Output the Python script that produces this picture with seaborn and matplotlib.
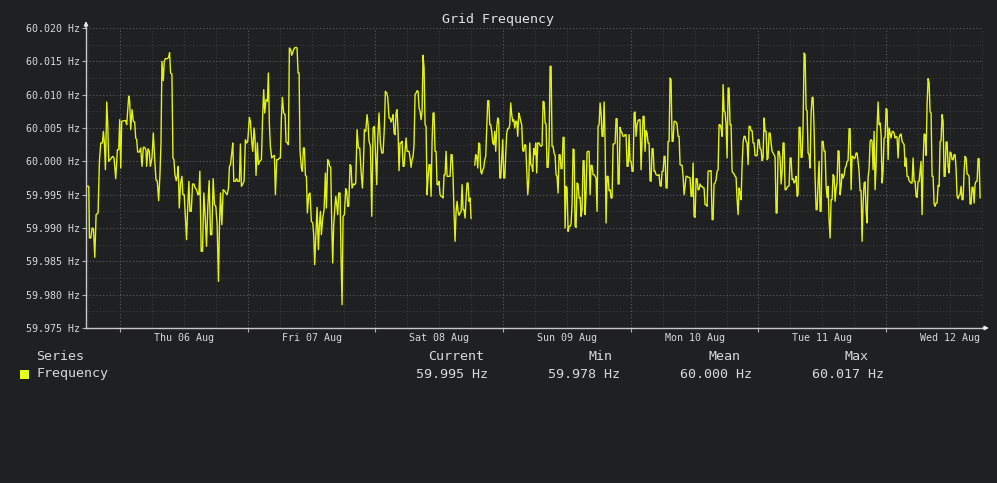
import pandas as pd
import matplotlib
matplotlib.use("Agg")
import matplotlib.pyplot as plt
import matplotlib.dates as mdates
import matplotlib.transforms as mtransforms
from matplotlib.patches import Rectangle
from matplotlib.ticker import MultipleLocator, FuncFormatter, NullFormatter
import seaborn as sns

# Данні: (години від Thu 06 Aug 00:00, відхилення від 60 Гц у мГц)
NOMINAL_HZ = 60.0
DAY0 = pd.Timestamp("2020-08-06 00:00")

wed_thu = [(-6.25,-3.75),(-5.88,-3.75),(-5.75,-11.5),(-5.5,-11.5),(-5.25,-10),(-5.0,-10.1),(-4.75,-14.4),(-4.5,-8),(-4.13,-7.75),(-3.88,0),(-3.63,2.75),(-3.31,2.75),(-3.13,4.5),(-2.94,2.75),(-2.75,-1.25),(-2.5,8.9),(-2.31,5.5),(-2.13,0),(-1.88,0.25),(-1.63,0.5),(-1.38,0.75),(-1.13,0.5),(-0.81,-2.6),(-0.5,1.75),(-0.25,1.75),(-0.06,6.25),(0.13,-1),(0.31,6),(0.75,6.1),(1.06,6.1),(1.25,5.5),(1.63,9.8),(1.81,9),(2.0,4.75),(2.25,7.75),(2.5,6),(2.75,5.9),(2.94,3.5),(3.13,3.25),(3.31,1.4),(3.63,1.4),(3.88,2),(4.13,-0.75),(4.38,2.1),(4.63,2.1),(4.88,1.6),(5.0,-0.75),(5.25,1.9),(5.5,1.5),(5.69,-0.75),(6.0,0.5),(6.25,4.25),(6.5,0.5),(6.75,-2.75),(7.0,-3),(7.25,-5.9),(7.5,-2),(7.69,2.6),(7.88,15),(8.13,12.1),(8.31,15),(8.5,15.4),(8.88,15.4),(9.13,15.6),(9.31,16.3),(9.5,13.25),(9.75,13.1),(9.94,0.5),(10.13,0.25),(10.31,-2),(10.56,-2.9),(10.75,-2.25),(10.94,-0.75),(11.13,-7),(11.38,-3.25),(11.63,-2.25),(11.81,-5),(12.06,-5),(12.31,-9),(12.5,-11.75),(12.69,-7.5),(12.94,-3),(13.13,-7.5),(13.38,-7.5),(13.63,-3.4),(13.88,-3.4),(14.13,-4),(14.38,-4.25),(14.63,-5),(14.81,-5),(15.0,-1.5),(15.25,-13.5),(15.5,-13.5),(15.75,-4.75),(16.0,-8.25),(16.25,-12.75),(16.5,-6.75),(16.75,-2.9),(17.0,-11),(17.25,-11),(17.5,-2.6),(17.75,-6.5),(18.0,-6.75),(18.25,-9.5),(18.5,-18),(18.69,-9.5),(18.88,-4.75),(19.13,-9.5),(19.38,-4.25),(19.63,-4.4),(19.88,-4.75),(20.13,-5),(20.38,-4),(20.56,-0.75),(20.75,-0.5),(21.0,1.25),(21.19,2.75),(21.38,-3),(21.69,-3),(21.88,-2.6),(22.13,-3)]

thu_fri = [(22.43,-3),(22.62,2.6),(22.81,-3.75),(23.06,-3.4),(23.31,-3),(23.56,3.25),(23.81,2.75),(24.0,3),(24.31,6.6),(24.5,6),(24.75,3),(24.94,1.5),(25.19,5),(25.38,3.25),(25.56,-2.1),(25.81,2.75),(26.0,-0.5),(26.25,0),(26.57,0.25),(26.82,7.25),(27.0,10.75),(27.19,7.25),(27.44,9.25),(27.69,9),(27.88,13.25),(28.07,5.5),(28.26,2.25),(28.51,0.5),(28.76,0.75),(29.01,0.9),(29.2,-5),(29.45,0.25),(29.7,0.25),(29.95,0.5),(30.14,0.5),(30.33,6.5),(30.51,9.6),(30.76,7.25),(31.02,7),(31.2,2.9),(31.45,2.75),(31.64,2.5),(31.83,17),(32.08,16.75),(32.27,15.9),(32.52,16.5),(32.77,17),(33.08,17.1),(33.27,17),(33.46,13.25),(33.65,13.25),(33.83,1.5),(34.09,-1),(34.27,-1.5),(34.46,2),(34.65,2),(34.84,-2.1),(35.03,-2.25),(35.21,-7.75),(35.46,-5),(35.71,-4.75),(35.96,-9),(36.22,-9.25),(36.4,-11),(36.59,-15.5),(36.78,-11.5),(37.03,-6.9),(37.28,-13.25),(37.47,-9.5),(37.66,-7.5),(37.84,-11),(38.1,-8.5),(38.35,-7.25),(38.6,-1.75),(38.78,-7),(39.04,0.25),(39.22,0),(39.41,-0.75),(39.6,-0.9),(39.79,-9.5),(39.97,-15.25),(40.16,-9.5),(40.35,-7.25),(40.54,-5.25),(40.73,-6.5),(40.91,-8),(41.1,-4.75),(41.35,-4.75),(41.54,-14.5),(41.73,-21.5),(41.92,-8.25),(42.17,-8),(42.42,-4.1),(42.61,-4.5),(42.79,-6.75),(42.98,-6.75),(43.23,-0.5),(43.42,-0.75),(43.61,-4),(43.86,-3.4),(44.11,-3.5),(44.3,-3.25),(44.55,4.75),(44.8,2),(45.05,2),(45.3,-1.5),(45.55,-4),(45.74,-0.5),(45.93,4.75),(46.18,4.5),(46.43,7),(46.62,5.5),(46.8,3),(47.06,2.25),(47.31,-8.25),(47.56,5),(47.81,5.25),(47.99,1.75),(48.25,-3.5),(48.43,3.25),(48.68,7.25),(48.93,2.75),(49.19,1.25),(49.44,1.25),(49.69,5.25),(49.87,10.5),(50.13,10.25),(50.31,9.6),(50.56,6.5)]

sat_a = [(50.75,6.5),(50.94,5.9),(51.13,6.35),(51.32,7),(51.5,4.25),(51.69,4),(51.88,7.25),(52.07,7.75),(52.26,4.25),(52.44,-1.4),(52.63,2.75),(52.82,2.75),(53.01,3),(53.2,-0.75),(53.38,-0.75),(53.57,1.5),(53.76,3.5),(53.95,1.5),(54.14,1.5),(54.32,1.5),(54.51,0.5),(54.7,-0.9),(54.89,0.25),(55.08,0.75),(55.26,2.5),(55.45,10),(55.64,10.25),(55.83,10.6),(56.02,10.5),(56.2,8),(56.39,7.5),(56.58,6.25),(56.77,7.5),(56.95,15.9),(57.14,14),(57.33,5.5),(57.52,5.25),(57.71,-5),(57.89,-2.5),(58.08,-0.5),(58.27,-0.5),(58.46,-5.25),(58.65,3),(58.83,7.25),(59.02,7.25),(59.21,1.5),(59.4,1.5),(59.59,-3.5),(59.77,-3.5),(59.96,-3),(60.15,-5),(60.34,-5.25),(60.53,-5.25),(60.71,-5.5),(60.9,-2),(61.09,-2),(61.28,1.5),(61.47,-2.25),(61.65,-2.25),(61.84,-2.25),(62.03,-2.25),(62.22,1),(62.41,1),(62.59,-2.25),(62.78,-7.75),(62.97,-12),(63.16,-7.5),(63.35,-6),(63.53,-7.5),(63.72,-8.1),(63.91,-7.75),(64.1,-7.5),(64.29,-3.5),(64.47,-7.25),(64.66,-7.25),(64.85,-8.5),(65.04,-5.5),(65.23,-3.25),(65.41,-3.25),(65.6,-6),(65.79,-5.5),(65.98,-8.6)]

sat_b = [(66.67,-0.6),(66.85,1),(67.04,0.75),(67.23,-1),(67.42,2.75),(67.61,2.6),(67.79,-1.5),(67.98,-1.9),(68.17,-1.25),(68.36,-1),(68.55,0.25),(68.73,0.75),(68.92,5),(69.11,9.1),(69.3,9.1),(69.49,5.5),(69.67,5.5),(69.86,4.5),(70.05,2.75),(70.24,2.5),(70.43,4.5),(70.61,1.5),(70.8,5),(70.99,6.5),(71.18,6),(71.37,-2.5),(71.55,-2.5),(71.74,0.5),(71.93,3.25),(72.12,-2.5),(72.31,-2.5),(72.49,1),(72.68,4.25),(72.87,4.9),(73.06,4.9),(73.25,5.5),(73.43,8.75),(73.62,7),(73.81,6),(74.0,6.25),(74.19,5),(74.37,6),(74.56,6),(74.75,3.75),(74.94,7.25),(75.13,6.75),(75.31,6),(75.5,5.5),(75.69,1.6),(75.88,1.5),(76.07,2.5),(76.25,2.4),(76.44,-1.5),(76.63,-5),(76.82,-3),(77.01,2.75),(77.19,-0.5),(77.38,-0.6),(77.57,-1.5),(77.76,1.9),(77.95,1),(78.13,2.75),(78.32,-1.75),(78.51,2.75)]

sun_mon = [(78.76,2.75),(78.95,2.4),(79.14,2.25),(79.32,2.4),(79.51,9),(79.7,8.9),(79.89,5.75),(80.08,5.6),(80.26,-0.9),(80.45,-0.9),(80.64,2.5),(80.83,14.25),(81.02,14.25),(81.2,2.25),(81.39,2.25),(81.58,1.25),(81.77,0.9),(81.95,-2),(82.14,-2.25),(82.33,-4.75),(82.52,1),(82.71,1),(82.89,-1.1),(83.08,-1.1),(83.27,3.6),(83.46,3.6),(83.65,-10),(83.83,-3.75),(84.02,-4),(84.21,-10.5),(84.4,-9.75),(84.59,-9.75),(84.77,-9.4),(84.96,-6.5),(85.15,1.85),(85.34,1.75),(85.53,-9.75),(85.71,-9.9),(85.9,-3.25),(86.09,-3.4),(86.28,-5.5),(86.47,-5.4),(86.65,-8.25),(86.84,-7.25),(87.03,0.1),(87.22,0.1),(87.41,-8),(87.59,-4.75),(87.78,1.4),(87.97,1.5),(88.16,1.5),(88.35,-5),(88.53,-0.6),(88.72,-0.6),(88.91,-2),(89.1,-2),(89.29,-2.25),(89.47,-2.5),(89.66,-7.5),(89.85,5.25),(90.04,5.5),(90.23,8.75),(90.41,7.25),(90.6,3.75),(90.79,3.75),(90.98,8.9),(91.17,3.1),(91.35,-9.25),(91.54,-2.25),(91.73,-2.25),(91.92,-4.4),(92.11,-4.25),(92.29,-5.5),(92.48,-5.5),(92.67,2.6),(92.86,2.6),(93.05,2.75),(93.23,6.4),(93.42,6.4),(93.61,-3.4),(93.8,-3.4),(93.98,5.1),(94.17,4.5),(94.36,4.25),(94.55,3.75),(94.74,3.75),(94.92,4),(95.11,4),(95.3,-0.75),(95.49,-0.75),(95.68,4),(95.86,0),(96.05,0),(96.24,-1.5),(96.43,-1.5),(96.62,7.25),(96.8,7.4),(96.99,3.75),(97.18,5.5),(97.37,6.1),(97.56,6.25),(97.74,6.25),(97.93,-1.25),(98.12,3.25),(98.31,6.75),(98.5,6.75),(98.68,1.5),(98.87,4.6),(99.06,4.25),(99.25,2.75),(99.44,2.75),(99.62,-2.9),(99.81,-3),(100.0,1.9),(100.19,1.9),(100.38,-1.5),(100.56,-1.5),(100.75,-2),(100.94,-2.1),(101.13,-2.1),(101.32,-2),(101.5,-3.6),(101.69,-3.75),(101.88,-1.5),(102.07,-1.5),(102.26,0.75),(102.44,0.75),(102.63,-4),(102.82,-4),(103.01,3),(103.2,3),(103.38,12.5),(103.57,12.25),(103.76,3),(103.95,3),(104.14,6),(104.32,6),(104.51,5.9),(104.7,5.5),(104.89,3.75),(105.08,3.75),(105.26,-0.5),(105.45,-0.6),(105.64,-0.6),(105.83,-2.25),(106.02,-5),(106.2,-3.75),(106.39,-2.25),(106.58,-2.25)]

mon_tue = [(106.77,-2.4),(106.95,-2.4),(107.14,-2.5),(107.33,-5.25),(107.52,-5.25),(107.71,-0.25),(107.89,-8.25),(108.08,-8.4),(108.27,-2.6),(108.46,-2.6),(108.65,-4.25),(108.83,-4.25),(109.02,-3.4),(109.21,-3.75),(109.4,-3.75),(109.59,-4),(109.77,-4),(109.96,-6.5),(110.15,-6.5),(110.34,-6.75),(110.53,-1.5),(110.71,-1.4),(110.9,-1.5),(111.09,-1.4),(111.28,-8.75),(111.47,-8.75),(111.65,-3.4),(111.84,-3.25),(112.03,-2.75),(112.22,-1.5),(112.41,-1.25),(112.59,5.5),(112.78,5.5),(112.97,5),(113.16,3.75),(113.35,11.5),(113.53,7.5),(113.72,7.4),(113.91,5.5),(114.1,0.5),(114.29,11),(114.47,11),(114.66,5.5),(114.85,5.5),(115.04,-1.5),(115.23,-1.75),(115.41,-1.9),(115.6,-2.25),(115.79,-2.4),(115.98,-5.75),(116.17,-8),(116.35,-4),(116.54,-4.75),(116.73,-5.75),(116.92,-0.5),(117.11,2.9),(117.29,3.75),(117.48,3.75),(117.67,3),(117.86,2.75),(118.05,-0.5),(118.23,5.25),(118.42,5.25),(118.61,4.6),(118.8,4.6),(118.98,2.75),(119.17,2.75),(119.36,0.85),(119.55,0.85),(119.74,0.85),(119.92,3.25),(120.11,3.25),(120.3,1.9),(120.49,1.75),(120.68,0.1),(120.86,0.5),(121.05,6.5),(121.24,4.5),(121.43,4.5),(121.62,0.25),(121.8,0.5),(121.99,4.25),(122.18,4.25),(122.37,2.75),(122.56,1.5),(122.74,1.25),(122.93,1),(123.12,0.6),(123.31,-7.75),(123.5,-7.75),(123.68,1.5),(123.87,1.5),(124.06,0.5),(124.25,-3.4),(124.44,-1.5),(124.62,2.75),(124.81,2.75),(125.0,-4.25),(125.19,-4.25),(125.38,-3.9),(125.56,-3.75),(125.75,-3.65),(125.94,0.5),(126.13,0.5),(126.32,-2.75),(126.5,-2.6),(126.69,-3.25),(126.88,-3),(127.07,-2.25),(127.26,-5.25),(127.44,-5),(127.63,5.1),(127.82,5.1),(128.01,0.6),(128.2,0.6),(128.38,5.1),(128.57,16.25),(128.76,16),(128.95,7.75),(129.14,7.6),(129.32,1.25),(129.51,1),(129.7,-1),(129.89,7.25),(130.08,9.6),(130.26,9.6),(130.45,5),(130.64,-2.5),(130.83,-7.25),(131.02,-7.25),(131.2,-3.25),(131.39,0),(131.58,-7.5),(131.77,-7.5),(131.95,3),(132.14,3),(132.33,1.5),(132.52,1.5),(132.71,-3.75),(132.89,-5.4),(133.08,-3.75),(133.27,-8.75),(133.46,-11.5),(133.65,-5.75),(133.83,-5.75),(134.02,-2),(134.21,-2.25),(134.4,-6),(134.59,-4),(134.77,-3.25)]

tue_wed = [(134.96,1.6),(135.15,1.5),(135.34,-5),(135.53,-3.75),(135.71,-1.9),(135.9,-2.5),(136.09,-2.1),(136.28,-1),(136.47,-0.75),(136.65,0),(136.84,0.1),(137.03,4.9),(137.22,4.9),(137.41,-4.25),(137.59,0.75),(137.78,0.75),(137.97,0.4),(138.16,0.5),(138.35,1.25),(138.53,1.25),(138.72,0),(138.91,-1.5),(139.1,-4.4),(139.29,-4.4),(139.47,-12),(139.66,-6.5),(139.85,-3.25),(140.04,-3.1),(140.23,-7.5),(140.41,-9.25),(140.6,-2.5),(140.79,-1.1),(140.98,3),(141.17,3.25),(141.35,3),(141.54,-1.25),(141.73,4.5),(141.92,-4.25),(142.11,-0.5),(142.29,5),(142.48,8.9),(142.67,5.5),(142.86,5.75),(143.05,4),(143.23,-3.25),(143.42,-1.5),(143.61,3.5),(143.8,3.6),(143.98,7.9),(144.17,7.75),(144.36,0.25),(144.55,5),(144.74,4.25),(144.92,3.5),(145.11,4.4),(145.3,4.5),(145.49,4.25),(145.68,3.5),(145.86,3.75),(146.05,3.6),(146.24,0.5),(146.43,3.5),(146.62,4),(146.8,4.1),(146.99,3),(147.18,2.75),(147.37,2.5),(147.56,-0.75),(147.74,0.5),(147.93,-2.25),(148.12,-2.25),(148.31,-2.9),(148.5,-3.1),(148.68,-3.25),(148.87,-3.25),(149.06,0.5),(149.25,-3),(149.44,-3),(149.62,-5.25),(149.81,-5.4),(150.0,-3),(150.19,-3),(150.38,-1.5),(150.56,0),(150.75,-8),(150.94,-0.4),(151.13,4.1),(151.32,4),(151.5,0.9),(151.69,8.5),(151.88,12.4),(152.07,11.75),(152.26,7.4),(152.44,7.25),(152.63,-2.25),(152.82,-2.25),(153.01,-6.4),(153.2,-6.75),(153.38,-6.25),(153.57,-6.25),(153.76,-3.6),(153.95,-3.75),(154.14,3),(154.32,3.1),(154.51,7),(154.7,6),(154.89,-2.25),(155.08,-2.25),(155.26,2.9),(155.45,2.9),(155.64,-0.75),(155.83,-1.75),(156.02,1.4),(156.2,1.25),(156.39,0.25),(156.58,0.25),(156.77,1),(156.95,1),(157.14,-1.1),(157.33,-5.25),(157.52,-5.6),(157.71,-5.1),(157.89,-5),(158.08,-3.75),(158.27,-5.75),(158.46,-5.75),(158.65,-1.5),(158.83,0.75),(159.02,0.5),(159.21,-1.9),(159.4,-2),(159.59,-2.25),(159.77,-6.4),(159.96,-6.4),(160.15,-3.9),(160.34,-3.9),(160.53,-6.25),(160.71,-3.4),(160.9,-3),(161.09,-3),(161.28,0.4),(161.47,0.4),(161.65,-5.5)]

# безперервні ділянки (між sat_a і sat_b є розрив у даних)
runs = [[wed_thu, thu_fri, sat_a], [sat_b, sun_mon, mon_tue, tue_wed]]

day_labels = ["Thu 06 Aug", "Fri 07 Aug", "Sat 08 Aug", "Sun 09 Aug",
              "Mon 10 Aug", "Tue 11 Aug", "Wed 12 Aug"]
stat_names = ["Current", "Min", "Mean", "Max"]
stat_values = ["59.995 Hz", "59.978 Hz", "60.000 Hz", "60.017 Hz"]

BG = "#1f2022"
LINE = "#e2f213"
TXT = "#d8d8d8"
W, H = 997, 483

sns.set_theme(style="dark", rc={"axes.facecolor": BG, "figure.facecolor": BG})
plt.rcParams["font.family"] = ["DejaVu Sans Mono"]

rows = []
for run_id, chunks in enumerate(runs):
    for chunk in chunks:
        for h, dev in chunk:
            rows.append((run_id, DAY0 + pd.Timedelta(hours=h), NOMINAL_HZ + dev / 1000))
df = pd.DataFrame(rows, columns=["run", "time", "freq"])

fig = plt.figure(figsize=(W / 100, H / 100), dpi=100, facecolor=BG)
ax = fig.add_axes([86 / W, 1 - 328 / H, (983 - 86) / W, 300 / H])
ax.set_facecolor(BG)

sns.lineplot(data=df, x="time", y="freq", units="run", estimator=None,
             color=LINE, linewidth=1.0, ax=ax, legend=False)

ax.set_xlim(DAY0 - pd.Timedelta(hours=6.4), DAY0 + pd.Timedelta(hours=162.2))
ax.set_ylim(59.975, 60.020)

# сітка
ax.xaxis.set_major_locator(mdates.HourLocator(byhour=[0]))
ax.xaxis.set_minor_locator(mdates.HourLocator(byhour=[6, 12, 18]))
ax.xaxis.set_major_formatter(NullFormatter())
ax.yaxis.set_major_locator(MultipleLocator(0.005))
ax.yaxis.set_minor_locator(MultipleLocator(0.0025))
ax.yaxis.set_major_formatter(FuncFormatter(lambda v, p: f"{v:.3f} Hz"))
ax.grid(which="major", color="#5e5f61", linestyle=(0, (1, 2)), linewidth=0.8)
ax.grid(which="minor", color="#3b3c3f", linestyle=(0, (1, 2)), linewidth=0.8)
ax.set_axisbelow(True)

ax.tick_params(axis="y", which="major", left=True, length=3, width=0.8, color="#b0b0b0",
               labelsize=7.2, labelcolor=TXT, pad=1.5)
ax.tick_params(axis="x", which="major", bottom=True, length=3, width=0.8, color="#b0b0b0")
ax.tick_params(which="minor", length=0)
ax.set_xlabel("")
ax.set_ylabel("")

for side in ["top", "right"]:
    ax.spines[side].set_visible(False)
for side in ["left", "bottom"]:
    ax.spines[side].set_visible(True)
    ax.spines[side].set_color("#c8c8c8")
    ax.spines[side].set_linewidth(1.0)

# стрілки осей
arrow = dict(arrowstyle="-|>", color="#e8e8e8", lw=1.0, mutation_scale=6, shrinkA=0, shrinkB=0)
ax.annotate("", xy=(1 + 6 / 897, 0), xytext=(1, 0), xycoords="axes fraction", arrowprops=arrow,
            annotation_clip=False)
ax.annotate("", xy=(0, 1 + 7 / 300), xytext=(0, 1), xycoords="axes fraction", arrowprops=arrow,
            annotation_clip=False)

# підписи днів (опівдні)
trans = mtransforms.blended_transform_factory(ax.transData, ax.transAxes)
for i, lab in enumerate(day_labels):
    xpos = mdates.date2num(DAY0 + pd.Timedelta(days=i, hours=12))
    ax.text(xpos, -10 / 300, lab, transform=trans, ha="center", va="center",
            fontsize=7.2, color=TXT)

fig.text(498 / W, 1 - 19 / H, "Grid Frequency", ha="center", va="center",
         fontsize=9.5, color="#e4e4e4")

# легенда
fig.text(36 / W, 1 - 356 / H, "Series", ha="left", va="center", fontsize=9.6, color=TXT)
fig.text(36 / W, 1 - 374 / H, "Frequency", ha="left", va="center", fontsize=9.6, color=TXT)
fig.add_artist(Rectangle((20 / W, 1 - 379 / H), 9 / W, 9 / H, transform=fig.transFigure,
                         facecolor="#e6ff1a", edgecolor="none"))
head_x = [456, 600, 724, 856]
val_x = [452, 584, 716, 848]
for name, val, hx, vx in zip(stat_names, stat_values, head_x, val_x):
    fig.text(hx / W, 1 - 356 / H, name, ha="center", va="center", fontsize=9.6, color=TXT)
    fig.text(vx / W, 1 - 374 / H, val, ha="center", va="center", fontsize=9.6, color=TXT)

fig.savefig("out.png", dpi=100, facecolor=BG)
plt.close(fig)
